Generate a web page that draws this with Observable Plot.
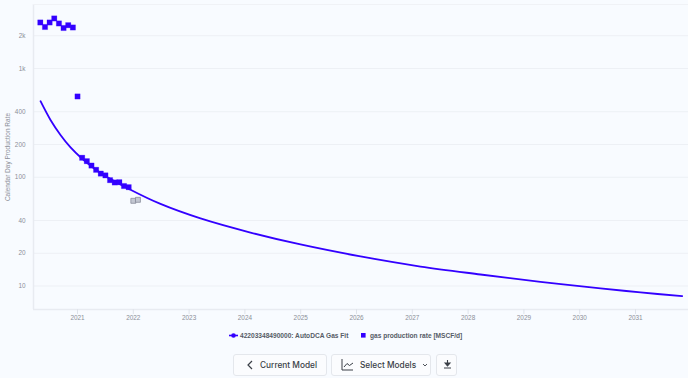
<!DOCTYPE html>
<html>
<head>
<meta charset="utf-8">
<script src="https://cdn.jsdelivr.net/npm/d3@7"></script>
<script src="https://cdn.jsdelivr.net/npm/@observablehq/plot@0.6"></script>
<style>
html,body{margin:0;padding:0;background:#f8fbff;overflow:hidden}
body{width:688px;height:378px;position:relative;font-family:"Liberation Sans",Arial,sans-serif}
#chart{position:absolute;left:0;top:0}
#legend{position:absolute;left:0;top:330px;width:688px;height:11px;font-size:6.6px;font-weight:700;color:#555b66;line-height:11px}
#legend span{position:absolute;white-space:nowrap}
.btn{position:absolute;top:354px;height:22px;box-sizing:border-box;border:1px solid #e4e7ec;border-radius:3px;background:#fbfcfe;color:#3a3f47;font-family:Inter,"Noto Sans",sans-serif;font-size:8.3px;line-height:21px;white-space:nowrap}
.btn svg{position:absolute;overflow:visible}
.btn b{position:absolute;font-weight:500;top:0}
</style>
</head>
<body>
<div id="chart"></div>
<div id="legend">
  <svg style="position:absolute;left:229px;top:1px" width="10" height="9"><line x1="0" x2="9" y1="4.5" y2="4.5" stroke="#3300ff" stroke-width="1.6"/><circle cx="4.5" cy="4.5" r="2.3" fill="#3300ff"/></svg>
  <span style="left:240px">42203348490000: AutoDCA Gas Fit</span>
  <svg style="position:absolute;left:361px;top:3px" width="6" height="6"><rect width="4.6" height="4.6" fill="#3300ff"/></svg>
  <span style="left:370px">gas production rate [MSCF/d]</span>
</div>
<div class="btn" style="left:233px;width:94px">
  <svg style="left:12px;top:5px" width="8" height="10"><path d="M6 1L2 5L6 9" fill="none" stroke="#3a3f47" stroke-width="1.2"/></svg>
  <b style="left:26px">Current Model</b>
</div>
<div class="btn" style="left:331px;width:100px">
  <svg style="left:9px;top:4px" width="13" height="12"><path d="M1 0V11H12M3 8L6 4.5L8.5 6.5L12 4" fill="none" stroke="#3a3f47" stroke-width="1"/></svg>
  <b style="left:28px">Select Models</b>
  <svg style="left:90px;top:8px" width="6" height="5"><path d="M1 1L3 3L5 1" fill="none" stroke="#3a3f47" stroke-width="0.9"/></svg>
</div>
<div class="btn" style="left:436px;width:21px">
  <svg style="left:6px;top:5px" width="9" height="10"><path d="M4.5 0V4.5M2 3L4.5 6L7 3Z M1 8H8" fill="#3a3f47" stroke="#3a3f47" stroke-width="1.1"/></svg>
</div>
<script>
const yearTicks = [2021,2022,2023,2024,2025,2026,2027,2028,2029,2030,2031];
const rateTicks = [10,20,40,100,200,400,1000,2000];

const fitYears = [2020.337,2020.516,2020.695,2020.875,2021.054,2021.412,2021.95,2022.487,2023.204,2024.1,2024.996,2026.072,2027.147,2028.222,2029.297,2030.373,2031.09,2031.837];
const fitRates = [500,336,244.6,187.8,152.6,109.4,76.7,56.8,41.8,31,24.1,18.7,15.1,12.76,10.9,9.52,8.73,8.06];

const prodYears = [2020.333,2020.417,2020.5,2020.583,2020.667,2020.75,2020.833,2020.917,2021,2021.083,2021.167,2021.25,2021.333,2021.417,2021.5,2021.583,2021.667,2021.75,2021.833,2021.917];
const prodRates = [2648,2408,2648,2884,2594,2357,2500,2382,553,151,140.5,128,117,108,104,94,89.5,90,83,81];

const excludedYears = [2022,2022.083];
const excludedRates = [60.7,62];

const fit = fitYears.map((x,i)=>({x,y:fitRates[i]}));
const prod = prodYears.map((x,i)=>({x,y:prodRates[i]}));
const excl = excludedYears.map((x,i)=>({x,y:excludedRates[i]}));

const grey = "#8b8f98", gridC = "#edf0f5";
const plot = Plot.plot({
  width: 688, height: 326,
  marginLeft: 33, marginRight: 0, marginTop: 4, marginBottom: 17,
  style: {background:"transparent", fontFamily:'"Liberation Sans",Arial,sans-serif', fontSize:"6.4px", color:grey},
  x: {type:"linear", domain:[2020.211,2031.95]},
  y: {type:"log", domain:[6.08,3875]},
  marks: [
    Plot.ruleY(rateTicks, {stroke:gridC, strokeWidth:1}),
    Plot.ruleX([2020.211], {stroke:"#e8ebf1", strokeWidth:1.5}),
    Plot.ruleY([6.08], {stroke:"#e8ebf1", strokeWidth:1.5}),
    Plot.ruleY([3875], {stroke:"#f0f2f6", strokeWidth:1}),
    Plot.axisX({ticks:yearTicks, tickFormat:"d", tickSize:5, tickPadding:1, stroke:"#dfe3ea", color:grey, label:null, fontSize:6.4}),
    Plot.axisY({ticks:rateTicks, tickFormat:d=>d>=1000?(d/1000)+"k":String(d), tickSize:0, tickPadding:8, color:grey, label:null, fontSize:6.4}),
    Plot.text(["Calendar Day Production Rate"], {frameAnchor:"left", textAnchor:"middle", dx:-26, dy:0, rotate:-90, fill:grey, fontSize:6.5}),
    Plot.line(fit, {x:"x", y:"y", stroke:"#3300ff", strokeWidth:1.8, curve:"catmull-rom"}),
    Plot.dot(prod, {x:"x", y:"y", symbol:"square", r:3, fill:"#3300ff", stroke:"#3300ff", strokeOpacity:0.35, strokeWidth:0.6}),
    Plot.dot(excl, {x:"x", y:"y", symbol:"square", r:2.8, fill:"#c3c7d2", stroke:"#7f8494", strokeWidth:0.7})
  ]
});
document.getElementById("chart").appendChild(plot);
</script>
</body>
</html>
